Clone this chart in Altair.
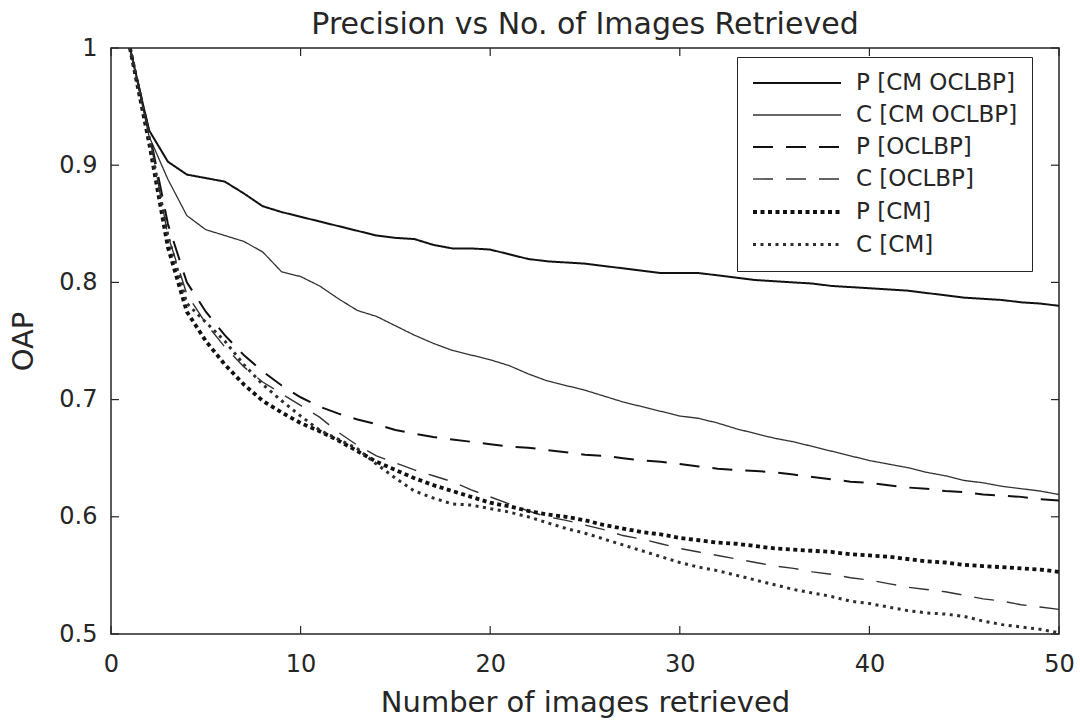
import altair as alt
import pandas as pd

# ---------------- data ----------------
x_values = list(range(1, 51))

series_names = ["P [CM OCLBP]", "C [CM OCLBP]", "P [OCLBP]", "C [OCLBP]", "P [CM]", "C [CM]"]

p_cm_oclbp = [1.000, 0.930, 0.903, 0.892, 0.889, 0.886, 0.876, 0.865, 0.860, 0.856,
              0.852, 0.848, 0.844, 0.840, 0.838, 0.837, 0.832, 0.829, 0.829, 0.828,
              0.824, 0.820, 0.818, 0.817, 0.816, 0.814, 0.812, 0.810, 0.808, 0.808,
              0.808, 0.806, 0.804, 0.802, 0.801, 0.800, 0.799, 0.797, 0.796, 0.795,
              0.794, 0.793, 0.791, 0.789, 0.787, 0.786, 0.785, 0.783, 0.782, 0.780]

c_cm_oclbp = [1.000, 0.925, 0.888, 0.857, 0.845, 0.840, 0.835, 0.826, 0.809, 0.805,
              0.797, 0.786, 0.776, 0.771, 0.763, 0.755, 0.748, 0.742, 0.738, 0.734,
              0.729, 0.722, 0.716, 0.712, 0.708, 0.703, 0.698, 0.694, 0.690, 0.686,
              0.684, 0.680, 0.675, 0.671, 0.667, 0.664, 0.660, 0.656, 0.652, 0.648,
              0.645, 0.642, 0.638, 0.635, 0.631, 0.629, 0.626, 0.624, 0.622, 0.619]

p_oclbp = [1.000, 0.930, 0.850, 0.800, 0.775, 0.755, 0.738, 0.724, 0.712, 0.702,
           0.694, 0.688, 0.683, 0.679, 0.674, 0.671, 0.668, 0.666, 0.664, 0.662,
           0.660, 0.659, 0.657, 0.655, 0.653, 0.652, 0.650, 0.648, 0.647, 0.645,
           0.643, 0.641, 0.640, 0.639, 0.638, 0.636, 0.634, 0.632, 0.630, 0.629,
           0.627, 0.625, 0.624, 0.622, 0.621, 0.619, 0.618, 0.617, 0.615, 0.614]

c_oclbp = [1.000, 0.928, 0.840, 0.790, 0.765, 0.745, 0.728, 0.715, 0.705, 0.695,
           0.685, 0.672, 0.661, 0.652, 0.646, 0.640, 0.635, 0.630, 0.623, 0.617,
           0.611, 0.605, 0.600, 0.597, 0.593, 0.589, 0.584, 0.581, 0.577, 0.573,
           0.570, 0.567, 0.564, 0.561, 0.558, 0.556, 0.553, 0.551, 0.548, 0.546,
           0.543, 0.540, 0.538, 0.536, 0.533, 0.530, 0.528, 0.525, 0.523, 0.521]

p_cm = [1.000, 0.920, 0.830, 0.775, 0.750, 0.730, 0.713, 0.699, 0.689, 0.680,
        0.673, 0.665, 0.656, 0.647, 0.640, 0.633, 0.627, 0.622, 0.617, 0.612,
        0.609, 0.605, 0.602, 0.600, 0.597, 0.593, 0.590, 0.587, 0.585, 0.582,
        0.580, 0.578, 0.577, 0.575, 0.573, 0.572, 0.571, 0.570, 0.568, 0.567,
        0.566, 0.564, 0.562, 0.561, 0.559, 0.558, 0.557, 0.556, 0.555, 0.553]

c_cm = [1.000, 0.925, 0.840, 0.782, 0.766, 0.750, 0.730, 0.713, 0.699, 0.686,
        0.674, 0.666, 0.658, 0.645, 0.633, 0.622, 0.616, 0.611, 0.610, 0.607,
        0.604, 0.600, 0.595, 0.590, 0.586, 0.581, 0.576, 0.571, 0.566, 0.561,
        0.557, 0.554, 0.550, 0.546, 0.542, 0.538, 0.535, 0.532, 0.528, 0.526,
        0.523, 0.520, 0.518, 0.517, 0.515, 0.511, 0.508, 0.506, 0.504, 0.501]

x_ticks = [0, 10, 20, 30, 40, 50]
y_ticks = [0.5, 0.6, 0.7, 0.8, 0.9, 1.0]

# ---------------- styles ----------------
line_colors = ["#111111", "#333333", "#111111", "#333333", "#111111", "#2e2e2e"]
line_dashes = [[1, 0], [1, 0], [20, 13], [20, 13], [4, 3.5], [3, 4.5]]
line_widths = [2.0, 1.3, 2.0, 1.4, 3.8, 3.0]

ink = "#262626"
font = "DejaVu Sans"

all_series = [p_cm_oclbp, c_cm_oclbp, p_oclbp, c_oclbp, p_cm, c_cm]
rows = []
for name, vals in zip(series_names, all_series):
    for xv, yv in zip(x_values, vals):
        rows.append({"n": xv, "oap": yv, "series": name})
df = pd.DataFrame(rows)

x_scale = alt.Scale(domain=[0, 50], nice=False, zero=False)
y_scale = alt.Scale(domain=[0.5, 1], nice=False, zero=False)

x_axis = alt.Axis(values=x_ticks, title="Number of images retrieved",
                  labelPadding=18, titlePadding=12, labelFlush=False)
y_axis = alt.Axis(values=y_ticks, title="OAP",
                  labelExpr="format(datum.value, '~g')",
                  labelPadding=14, titlePadding=20, labelFlush=False)

legend = alt.Legend(
    title=None,
    orient="none",
    legendX=626,
    legendY=9,
    symbolType="M-1,0H7",
    symbolSize=484,
    symbolFillColor="transparent",
    labelFont=font,
    labelFontSize=23,
    labelColor=ink,
    labelOffset=79,
    labelLimit=400,
    padding=14,
    rowPadding=8,
    fillColor="white",
    strokeColor=ink,
    cornerRadius=0,
)

lines = alt.Chart(df).mark_line(clip=True, strokeCap="butt", strokeJoin="miter").encode(
    x=alt.X("n:Q", scale=x_scale, axis=x_axis),
    y=alt.Y("oap:Q", scale=y_scale, axis=y_axis),
    color=alt.Color("series:N", scale=alt.Scale(domain=series_names, range=line_colors), legend=legend),
    strokeDash=alt.StrokeDash("series:N", scale=alt.Scale(domain=series_names, range=line_dashes), legend=legend),
    strokeWidth=alt.StrokeWidth("series:N",
                                scale=alt.Scale(type="ordinal", domain=series_names, range=line_widths),
                                legend=legend),
    order=alt.Order("n:Q"),
)

x_tick_df = pd.DataFrame({"t": x_ticks})
y_tick_df = pd.DataFrame({"t": y_ticks})
tick_len = 8

bottom_ticks = alt.Chart(x_tick_df).mark_rule(color=ink, strokeWidth=1.2, y2Offset=-tick_len).encode(
    x=alt.X("t:Q", scale=x_scale, axis=x_axis),
    y=alt.YDatum(0.5, axis=y_axis),
    y2=alt.Y2Datum(0.5),
)
top_ticks = alt.Chart(x_tick_df).mark_rule(color=ink, strokeWidth=1.2, y2Offset=tick_len).encode(
    x=alt.X("t:Q", scale=x_scale, axis=x_axis),
    y=alt.YDatum(1.0, axis=y_axis),
    y2=alt.Y2Datum(1.0),
)
left_ticks = alt.Chart(y_tick_df).mark_rule(color=ink, strokeWidth=1.2, x2Offset=tick_len).encode(
    y=alt.Y("t:Q", scale=y_scale, axis=y_axis),
    x=alt.XDatum(0, axis=x_axis),
    x2=alt.X2Datum(0),
)
right_ticks = alt.Chart(y_tick_df).mark_rule(color=ink, strokeWidth=1.2, x2Offset=-tick_len).encode(
    y=alt.Y("t:Q", scale=y_scale, axis=y_axis),
    x=alt.XDatum(50, axis=x_axis),
    x2=alt.X2Datum(50),
)

chart = alt.layer(lines, bottom_ticks, top_ticks, left_ticks, right_ticks).properties(
    width=948,
    height=586,
    title=alt.Title("Precision vs No. of Images Retrieved", font=font, fontSize=30,
                    fontWeight="normal", color=ink, offset=-4, frame="group"),
    autosize=alt.AutoSizeParams(type="none"),
    padding={"left": 111, "top": 48, "right": 21, "bottom": 91},
    background="white",
).configure_view(
    stroke=ink, strokeWidth=1.5
).configure_axis(
    domain=False, ticks=False, grid=False,
    labelFont=font, labelFontSize=24, labelColor=ink,
    titleFont=font, titleFontSize=29, titleFontWeight="normal", titleColor=ink,
)

chart.save("out.html", embed_options={"renderer": "svg", "actions": False})
